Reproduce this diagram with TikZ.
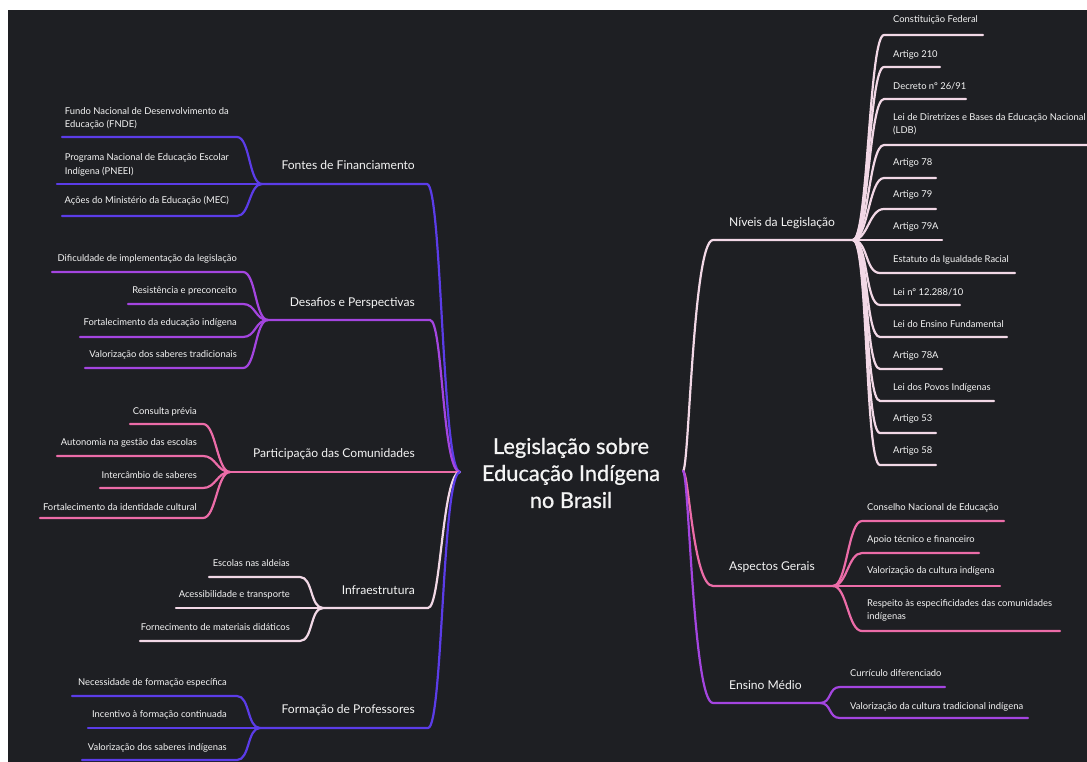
\documentclass[tikz,border=0pt]{standalone}
\usepackage{fontspec}
\setmainfont{Lato}
\newfontfamily\titlefont{Lato}[FakeBold=0.8]
\definecolor{bg}{HTML}{1E1F23}
\definecolor{cblue}{HTML}{5B3CE8}
\definecolor{cpurple}{HTML}{A445E0}
\definecolor{cpink}{HTML}{EC6CA8}
\definecolor{cpale}{HTML}{F2D8E6}
\definecolor{fg}{HTML}{F4F4F4}
\begin{document}
\begin{tikzpicture}[x=1pt,y=-1pt,
  leaf/.style={inner sep=0pt, text=fg, font=\fontsize{9.4}{13.5}\selectfont, align=left},
  branchlbl/.style={inner sep=0pt, text=fg, font=\fontsize{12.1}{14}\selectfont},
  titlelbl/.style={inner sep=0pt, text=fg, font=\titlefont\fontsize{21.8}{27}\selectfont, align=center},
  conn/.style={line width=2.2pt, line cap=round},
]
\useasboundingbox (0,0) rectangle (1087,762);
\fill[white] (0,0) rectangle (1087,762);
\fill[bg] (8,10) rectangle (1087,762);

% root
\node[titlelbl] (root) at (571,473) {Legislação sobre\\Educação Indígena\\no Brasil};
\coordinate (rootL) at (460,472);
\coordinate (rootR) at (683,471);

% ---------- LEFT: Fontes de Financiamento ----------
\coordinate (jF) at (262,184);
\coordinate (bF) at (427,184);
\draw[conn,cblue] (jF) -- (bF) .. controls +(15,0) and +(-18,0) .. (rootL);
\node[branchlbl,anchor=east] (lF) at (415,165) {Fontes de Financiamento};
\foreach \nm/\txt/\ty/\uy/\xa/\xb in {
  fnde/{Fundo Nacional de Desenvolvimento da\\Educação (FNDE)}/118.5/137/62/237,
  pneei/{Programa Nacional de Educação Escolar\\Indígena (PNEEI)}/165/184/57/262,
  mec/{Ações do Ministério da Educação (MEC)}/201/216/62/237}{
  \node[leaf,anchor=east] (\nm) at (229,\ty) {\txt};
  \coordinate (\nm-a) at (\xa,\uy);
  \coordinate (\nm-b) at (\xb,\uy);
  \draw[conn,cblue] (\nm-a) -- (\nm-b) .. controls +(13,0) and +(-13,0) .. (jF);
}

% ---------- LEFT: Desafios e Perspectivas ----------
\coordinate (jD) at (268,320);
\coordinate (bD) at (430,320);
\draw[conn,cpurple] (jD) -- (bD) .. controls +(13,0) and +(-18,0) .. (rootL);
\node[branchlbl,anchor=east] (lD) at (415,303) {Desafios e Perspectivas};
\foreach \nm/\txt/\ty/\uy/\xa/\xb in {
  dif/{Dificuldade de implementação da legislação}/259/272/52/243,
  res/{Resistência e preconceito}/291/304/128/243,
  fort/{Fortalecimento da educação indígena}/323/337/80/243,
  val/{Valorização dos saberes tradicionais}/355/368/85/243}{
  \node[leaf,anchor=east] (\nm) at (237,\ty) {\txt};
  \coordinate (\nm-a) at (\xa,\uy);
  \coordinate (\nm-b) at (\xb,\uy);
  \draw[conn,cpurple] (\nm-a) -- (\nm-b) .. controls +(13,0) and +(-13,0) .. (jD);
}

% ---------- LEFT: Participação das Comunidades ----------
\coordinate (jP) at (230,472);
\draw[conn,cpink] (jP) -- (rootL);
\node[branchlbl,anchor=east] (lP) at (415,454) {Participação das Comunidades};
\foreach \nm/\txt/\ty/\uy/\xa/\xb in {
  cons/{Consulta prévia}/412/424/130/203,
  auto/{Autonomia na gestão das escolas}/443/456/57/203,
  inter/{Intercâmbio de saberes}/475/488/100/203,
  ident/{Fortalecimento da identidade cultural}/507/518/40/203}{
  \node[leaf,anchor=east] (\nm) at (197,\ty) {\txt};
  \coordinate (\nm-a) at (\xa,\uy);
  \coordinate (\nm-b) at (\xb,\uy);
  \draw[conn,cpink] (\nm-a) -- (\nm-b) .. controls +(13,0) and +(-13,0) .. (jP);
}

% ---------- LEFT: Infraestrutura ----------
\coordinate (jI) at (323,608);
\coordinate (bI) at (428,608);
\draw[conn,cpale] (jI) -- (bI) .. controls +(13,0) and +(-18,0) .. (rootL);
\node[branchlbl,anchor=east] (lI) at (415,590) {Infraestrutura};
\foreach \nm/\txt/\ty/\uy/\xa/\xb in {
  esc/{Escolas nas aldeias}/563/577/209/300,
  acc/{Acessibilidade e transporte}/595/608/176/323,
  forn/{Fornecimento de materiais didáticos}/627/641/140/300}{
  \node[leaf,anchor=east] (\nm) at (290,\ty) {\txt};
  \coordinate (\nm-a) at (\xa,\uy);
  \coordinate (\nm-b) at (\xb,\uy);
  \draw[conn,cpale] (\nm-a) -- (\nm-b) .. controls +(13,0) and +(-13,0) .. (jI);
}

% ---------- LEFT: Formação de Professores ----------
\coordinate (jFo) at (260,728);
\coordinate (bFo) at (428,728);
\draw[conn,cblue] (jFo) -- (bFo) .. controls +(15,0) and +(-18,0) .. (rootL);
\node[branchlbl,anchor=east] (lFo) at (415,710) {Formação de Professores};
\foreach \nm/\txt/\ty/\uy/\xa/\xb in {
  nec/{Necessidade de formação específica}/683/696/72/237,
  inc/{Incentivo à formação continuada}/715/728/88/260,
  vsi/{Valorização dos saberes indígenas}/748/760/82/237}{
  \node[leaf,anchor=east] (\nm) at (227,\ty) {\txt};
  \coordinate (\nm-a) at (\xa,\uy);
  \coordinate (\nm-b) at (\xb,\uy);
  \draw[conn,cblue] (\nm-a) -- (\nm-b) .. controls +(13,0) and +(-13,0) .. (jFo);
}

% ---------- RIGHT: Níveis da Legislação ----------
\coordinate (bN) at (713,240);
\coordinate (jN) at (853,240);
\draw[conn,cpale] (rootR) .. controls +(6,0) and +(-20,0) .. (bN) -- (jN);
\node[branchlbl,anchor=west] (lN) at (729,223) {Níveis da Legislação};
\foreach \nm/\txt/\ty/\uy/\xa/\xb in {
  cf/{Constituição Federal}/20/35/884/983,
  a210/{Artigo 210}/55/67/884/940,
  dec/{Decreto nº 26/91}/86/99/884/966,
  ldb/{Lei de Diretrizes e Bases da Educação Nacional\\(LDB)}/124/145/884/1087,
  a78/{Artigo 78}/163/178/884/936,
  a79/{Artigo 79}/195/209/884/936,
  a79a/{Artigo 79A}/227/240/853/942,
  est/{Estatuto da Igualdade Racial}/260/273/880/1015,
  lei12/{Lei nº 12.288/10}/292/305/880/960,
  lef/{Lei do Ensino Fundamental}/324/337/880/1007,
  a78a/{Artigo 78A}/356/369/880/942,
  lpi/{Lei dos Povos Indígenas}/388/401/880/994,
  a53/{Artigo 53}/419/433/880/936,
  a58/{Artigo 58}/451/465/880/936}{
  \node[leaf,anchor=west] (\nm) at (893,\ty) {\txt};
  \coordinate (\nm-a) at (\xa,\uy);
  \coordinate (\nm-b) at (\xb,\uy);
  \draw[conn,cpale] (jN) .. controls +(15,0) and +(-15,0) .. (\nm-a) -- (\nm-b);
}

% ---------- RIGHT: Aspectos Gerais ----------
\coordinate (bA) at (713,586);
\coordinate (jA) at (833,586);
\draw[conn,cpink] (rootR) .. controls +(6,0) and +(-20,0) .. (bA) -- (jA);
\node[branchlbl,anchor=west] (lA) at (729,567) {Aspectos Gerais};
\foreach \nm/\txt/\ty/\uy/\xa/\xb in {
  cne/{Conselho Nacional de Educação}/508/521/862/1004,
  apoio/{Apoio técnico e financeiro}/540/553/862/979,
  vci/{Valorização da cultura indígena}/571/586/833/1000,
  resp/{Respeito às especificidades das comunidades\\indígenas}/610.5/631/862/1060}{
  \node[leaf,anchor=west] (\nm) at (867,\ty) {\txt};
  \coordinate (\nm-a) at (\xa,\uy);
  \coordinate (\nm-b) at (\xb,\uy);
  \draw[conn,cpink] (jA) .. controls +(14,0) and +(-14,0) .. (\nm-a) -- (\nm-b);
}

% ---------- RIGHT: Ensino Médio ----------
\coordinate (bE) at (713,703);
\coordinate (jE) at (820,703);
\draw[conn,cpurple] (rootR) .. controls +(6,0) and +(-20,0) .. (bE) -- (jE);
\node[branchlbl,anchor=west] (lE) at (729,685) {Ensino Médio};
\foreach \nm/\txt/\ty/\uy/\xa/\xb in {
  cur/{Currículo diferenciado}/673/687/840/945,
  vct/{Valorização da cultura tradicional indígena}/707/718/840/1028}{
  \node[leaf,anchor=west] (\nm) at (850,\ty) {\txt};
  \coordinate (\nm-a) at (\xa,\uy);
  \coordinate (\nm-b) at (\xb,\uy);
  \draw[conn,cpurple] (jE) .. controls +(12,0) and +(-12,0) .. (\nm-a) -- (\nm-b);
}
\end{tikzpicture}
\end{document}
